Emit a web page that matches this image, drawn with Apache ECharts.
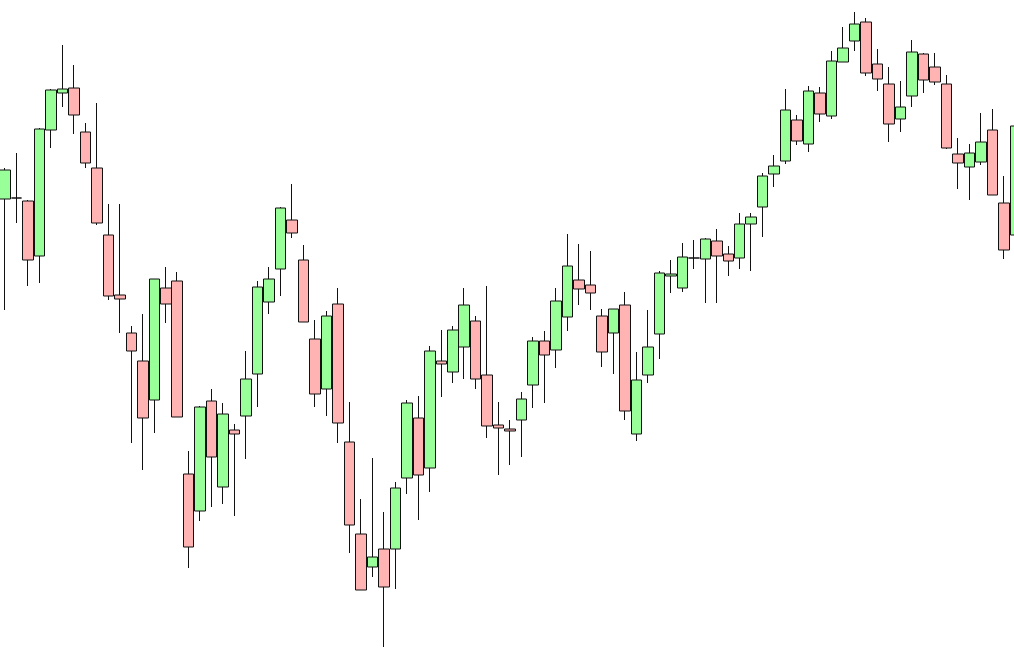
<!DOCTYPE html>
<html>
<head>
<meta charset="utf-8">
<script src="https://cdn.jsdelivr.net/npm/echarts@6/dist/echarts.min.js"></script>
<style>
html,body{margin:0;padding:0;background:#fff;}
#chart{width:1014px;height:650px;}
</style>
</head>
<body>
<div id="chart"></div>
<script>
// Session index (categories)
const sessions = Array.from({length: 89}, (_, i) => String(i + 1));
// Price values per session
const opens  = [451,452,449,394,520,557,562,518,482,415,355,317,289,250,362,369,176,139,249,163,220,234,276,348,381,430,390,311,261,346,208,116,83,101,101,172,232,182,289,278,303,329,275,225,221,230,265,309,300,333,370,365,334,317,345,216,275,316,374,362,392,391,409,396,392,426,443,476,489,530,506,557,534,588,609,628,586,566,531,554,596,583,566,496,483,488,520,447,415];
const closes = [480,452,390,521,560,561,535,487,427,354,351,299,232,371,346,233,103,243,193,236,216,271,363,371,442,417,328,256,334,227,125,60,93,63,162,247,175,299,286,320,345,271,224,222,219,251,309,295,349,384,361,357,298,341,239,270,303,377,376,393,392,411,394,389,426,433,474,484,540,509,559,536,589,602,626,577,571,526,543,598,570,568,502,487,497,508,455,400,524];
const lows   = [340,427,364,367,502,543,516,482,425,350,317,207,180,217,327,233,82,129,143,146,134,191,243,336,354,412,328,243,234,207,97,60,73,3,61,156,130,158,253,267,271,261,212,175,185,193,242,247,282,319,345,340,283,276,230,209,267,291,357,358,381,347,347,374,381,379,413,463,486,505,498,528,531,588,599,574,559,508,518,543,557,565,501,461,450,485,455,391,415];
const highs  = [482,497,450,522,561,605,585,527,547,446,446,324,336,371,383,378,199,244,261,247,226,299,369,383,443,466,405,330,339,362,248,151,192,138,168,250,254,304,320,324,362,334,364,248,230,258,313,319,362,416,406,399,341,341,358,298,340,379,390,407,410,412,421,404,437,437,477,495,561,535,564,563,599,623,638,632,601,583,569,610,597,597,575,512,506,537,541,474,525];

const ohlc = sessions.map((_, i) => [opens[i], closes[i], lows[i], highs[i]]);

const chart = echarts.init(document.getElementById('chart'), null, {renderer: 'canvas'});
chart.setOption({
  animation: false,
  backgroundColor: '#ffffff',
  grid: {left: -0.7, top: 0, width: 1021.7, height: 650, containLabel: false, outerBoundsMode: 'none'},
  xAxis: {
    type: 'category',
    data: sessions,
    boundaryGap: true,
    show: false
  },
  yAxis: {
    type: 'value',
    min: 0,
    max: 650,
    show: false,
    splitLine: {show: false}
  },
  series: [{
    type: 'candlestick',
    data: ohlc,
    barWidth: 11,
    clip: false,
    itemStyle: {
      color: '#99ff99',
      color0: '#ffb3b3',
      borderColor: '#111111',
      borderColor0: '#111111',
      borderColorDoji: '#111111',
      borderWidth: 1
    }
  }]
});
</script>
</body>
</html>
